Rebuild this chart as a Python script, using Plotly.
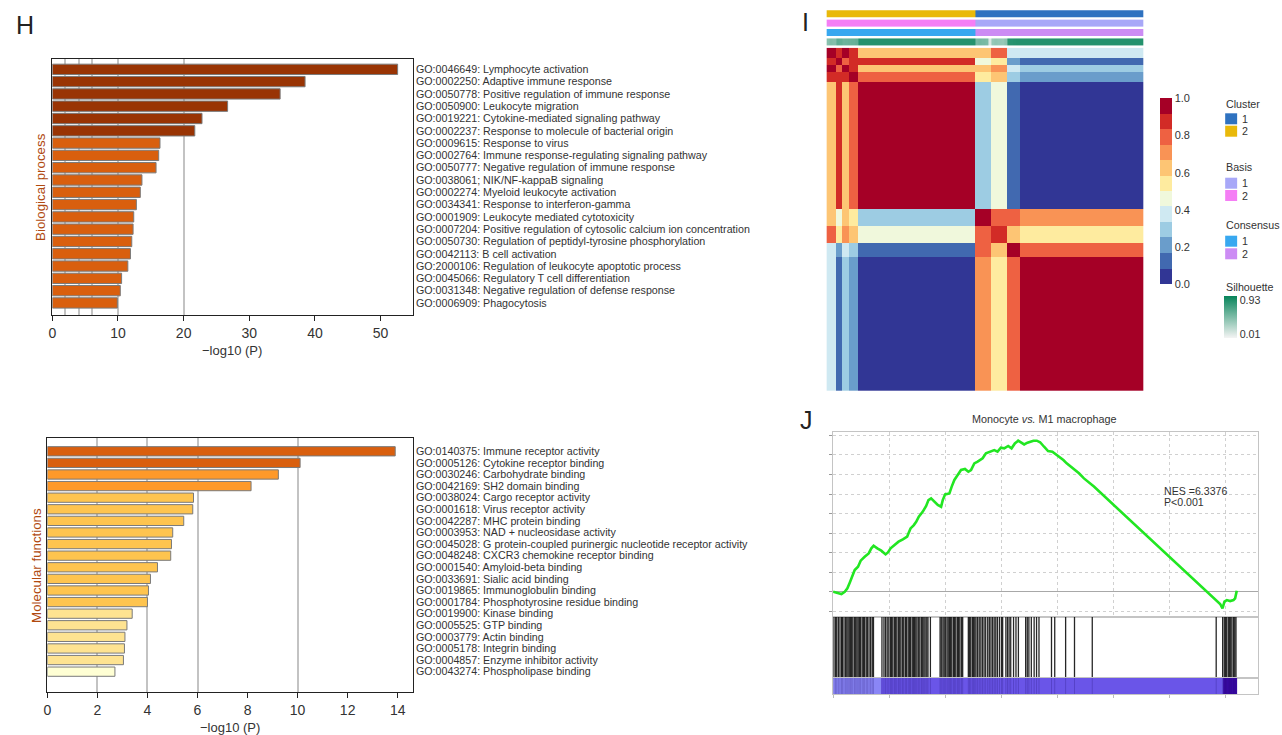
import numpy as np
import plotly.graph_objects as go

W, H = 1282, 735


def fx(x):
    return x / W


def fy(y):
    return 1 - y / H


# ======================= DATA =======================
# ---- Panel H (top): Biological process ----
BP_TERMS = [
    "GO:0046649: Lymphocyte activation",
    "GO:0002250: Adaptive immune response",
    "GO:0050778: Positive regulation of immune response",
    "GO:0050900: Leukocyte migration",
    "GO:0019221: Cytokine-mediated signaling pathway",
    "GO:0002237: Response to molecule of bacterial origin",
    "GO:0009615: Response to virus",
    "GO:0002764: Immune response-regulating signaling pathway",
    "GO:0050777: Negative regulation of immune response",
    "GO:0038061; NIK/NF-kappaB signaling",
    "GO:0002274: Myeloid leukocyte activation",
    "GO:0034341: Response to interferon-gamma",
    "GO:0001909: Leukocyte mediated cytotoxicity",
    "GO:0007204: Positive regulation of cytosolic calcium ion concentration",
    "GO:0050730: Regulation of peptidyl-tyrosine phosphorylation",
    "GO:0042113: B cell activation",
    "GO:2000106: Regulation of leukocyte apoptotic process",
    "GO:0045066: Regulatory T cell differentiation",
    "GO:0031348: Negative regulation of defense response",
    "GO:0006909: Phagocytosis",
]
BP_VALUES = [52.6, 38.5, 34.7, 26.7, 22.8, 21.7, 16.4, 16.2, 15.8, 13.65,
             13.4, 12.8, 12.4, 12.3, 12.1, 11.9, 11.5, 10.55, 10.35, 9.9]
BP_TICKS = [0, 10, 20, 30, 40, 50]
BP_GRID = [2, 4, 6, 10, 20]

# ---- Panel H (bottom): Molecular functions ----
MF_TERMS = [
    "GO:0140375: Immune receptor activity",
    "GO:0005126: Cytokine receptor binding",
    "GO:0030246: Carbohydrate binding",
    "GO:0042169: SH2 domain binding",
    "GO:0038024: Cargo receptor activity",
    "GO:0001618: Virus receptor activity",
    "GO:0042287: MHC protein binding",
    "GO:0003953: NAD + nucleosidase activity",
    "GO:0045028: G protein-coupled purinergic nucleotide receptor activity",
    "GO:0048248: CXCR3 chemokine receptor binding",
    "GO:0001540: Amyloid-beta binding",
    "GO:0033691: Sialic acid binding",
    "GO:0019865: Immunoglobulin binding",
    "GO:0001784: Phosphotyrosine residue binding",
    "GO:0019900: Kinase binding",
    "GO:0005525: GTP binding",
    "GO:0003779: Actin binding",
    "GO:0005178: Integrin binding",
    "GO:0004857: Enzyme inhibitor activity",
    "GO:0043274: Phospholipase binding",
]
MF_VALUES = [13.9, 10.1, 9.23, 8.14, 5.84, 5.81, 5.45, 5.01, 4.96, 4.93,
             4.4, 4.12, 4.04, 4.0, 3.39, 3.18, 3.1, 3.08, 3.04, 2.7]
MF_TICKS = [0, 2, 4, 6, 8, 10, 12, 14]
MF_GRID = [2, 4, 6, 10]

# ---- Panel I: consensus matrix (samples grouped in ordered sub-groups) ----
SUBGROUP_SIZES = [3, 2, 2, 3, 37, 5, 5, 4, 39]
SUBGROUP_CLUSTER = [2, 2, 2, 2, 2, 1, 1, 1, 1]
SUBGROUP_BASIS = [2, 2, 2, 2, 2, 1, 1, 1, 1]
SUBGROUP_CONSENSUS = [1, 1, 1, 1, 1, 2, 2, 2, 2]
SUBGROUP_SILHOUETTE = [
    [0.42, 0.46, 0.44],
    [0.62, 0.60],
    [0.55, 0.56],
    [0.57, 0.58, 0.60],
    [0.90] * 37,
    [0.50, 0.52, 0.50, 0.48, 0.03],
    [0.35, 0.38, 0.36, 0.35, 0.40],
    [0.88, 0.88, 0.89, 0.90],
    [0.90] * 39,
]
BLOCK_CONSENSUS = [
    [0.95, 0.88, 0.92, 0.85, 0.62, 0.62, 0.80, 0.40, 0.40],
    [0.88, 0.97, 0.80, 0.90, 0.88, 0.42, 0.55, 0.20, 0.14],
    [0.92, 0.80, 0.95, 0.88, 0.64, 0.60, 0.70, 0.36, 0.32],
    [0.85, 0.90, 0.88, 0.93, 0.78, 0.55, 0.62, 0.30, 0.24],
    [0.62, 0.88, 0.64, 0.78, 0.99, 0.30, 0.46, 0.16, 0.02],
    [0.62, 0.42, 0.60, 0.55, 0.30, 0.92, 0.80, 0.78, 0.68],
    [0.80, 0.55, 0.70, 0.62, 0.46, 0.80, 0.90, 0.66, 0.55],
    [0.40, 0.20, 0.36, 0.30, 0.16, 0.78, 0.66, 0.93, 0.80],
    [0.40, 0.14, 0.32, 0.24, 0.02, 0.68, 0.55, 0.80, 0.99],
]
CONSENSUS_TICKS = [0.0, 0.2, 0.4, 0.6, 0.8, 1.0]
SILHOUETTE_TICKS = [0.01, 0.93]

# ---- Panel J: GSEA running enrichment score ----
ES_RANK = [0, 12.3, 20.6, 28.8, 35.4, 41.2, 47.7, 53.5, 61.7, 68.3, 78.2, 88.1,
           94.7, 100.4, 109.5, 119.3, 130.0, 135.8, 142.4, 152.3, 162.1, 172.8,
           183.5, 186.8, 191.8, 200.0, 205.8, 212.3, 222.2, 230.5, 236.2, 242.8,
           251.0, 259.3, 267.5, 271.6, 277.4, 288.1, 293.8, 300.4, 308.6, 316.9,
           326.7, 335.0, 341.6, 349.8, 358.0, 370.4, 378.6, 389.3, 399.2, 407.4,
           415.6, 423.9, 433.7, 442.0, 450.2, 458.4, 466.7, 473.3, 481.5, 488.1,
           496.3, 504.5, 512.8, 522.6, 532.5, 543.2, 551.4, 559.7, 570.4, 578.6,
           588.5, 600.8, 609.1, 621.4, 637.9, 646.1, 958.8, 964.6, 969.5, 975.3,
           983.5, 991.8, 995.9, 1000.0]
ES_VALUES = [0.000, -0.005, -0.012, 0.000, 0.017, 0.046, 0.085, 0.111, 0.128,
             0.159, 0.179, 0.196, 0.222, 0.235, 0.222, 0.210, 0.191, 0.201,
             0.222, 0.239, 0.256, 0.268, 0.282, 0.299, 0.324, 0.341, 0.358,
             0.384, 0.410, 0.439, 0.469, 0.478, 0.461, 0.444, 0.435, 0.469,
             0.498, 0.503, 0.538, 0.572, 0.597, 0.623, 0.628, 0.614, 0.623,
             0.657, 0.666, 0.683, 0.708, 0.717, 0.725, 0.717, 0.737, 0.734,
             0.746, 0.734, 0.759, 0.773, 0.763, 0.754, 0.763, 0.768, 0.773,
             0.773, 0.765, 0.742, 0.720, 0.717, 0.705, 0.691, 0.674, 0.657,
             0.640, 0.623, 0.606, 0.580, 0.555, 0.538, -0.063, -0.085, -0.051,
             -0.043, -0.048, -0.043, -0.034, 0.005]
HIT_RANKS = [
    2, 6, 9, 13, 17, 21, 23, 27, 31, 34, 37, 40, 43, 46, 49, 53, 56, 59, 62, 65,
    68, 72, 75, 78, 82, 85, 89, 93, 97, 100,
    121, 126, 130, 134, 138, 142, 145, 148, 152, 155, 158, 162, 165, 168, 172,
    175, 179, 182, 186, 189, 192, 196, 199, 202, 205, 208, 212, 215, 219, 222,
    225, 228, 232, 235, 241,
    265, 268, 272, 275, 278, 282, 285, 288, 291, 294, 298, 301, 304, 308, 311,
    314, 318, 321,
    335, 338, 341, 345, 348, 351, 354, 358, 362, 366, 370, 374, 378, 383, 387,
    391, 395, 399, 403, 407, 412,
    417, 420, 428, 432, 436, 440, 447, 453, 459,
    477, 481, 485, 491, 498, 504, 510,
    541, 549, 576, 598, 642,
    949, 965, 969, 972, 975, 979, 982, 985, 988, 992, 995, 998,
]
METRIC_EDGES = [0, 120, 965, 1000]
METRIC_LEVEL = [1, 2, 3]
RANK_GRID_STEP = 138.8
ES_RANGE = [-0.128, 0.819]
RANK_RANGE = [0, 1052]

# ======================= STYLE =======================
FONT = "Liberation Sans, Arial, Helvetica, sans-serif"
TXT = "#333333"
BP_COLORS = ["#993404"] * 6 + ["#d95f0e"] * 14
MF_COLORS = (["#d95f0e"] * 2 + ["#fe9929"] * 2 + ["#fec44f"] * 10
             + ["#fee391"] * 5 + ["#ffffd4"])
TITLE_BROWN = "#b04a10"
GRID_COLOR = "rgba(175,175,175,0.75)"

RDYLBU12 = ["#313695", "#4169b0", "#6a9dcb", "#9dcce3", "#cfe9f2", "#f0f8dc",
            "#feeb9f", "#fdc574", "#f99355", "#ee6142", "#d22b26", "#a50026"]
cons_scale = []
for k, c in enumerate(RDYLBU12):
    cons_scale.append([k / 12, c])
    cons_scale.append([(k + 1) / 12, c])

CLUSTER_COLORS = {1: "#2f72c0", 2: "#e9b90a"}
BASIS_COLORS = {1: "#a8a8f8", 2: "#f57ef5"}
CONS_COLORS = {1: "#38a8f0", 2: "#cc8cf4"}

fig = go.Figure()

# ---------------- Panel H top ----------------
fig.add_trace(go.Bar(
    x=BP_VALUES, y=BP_TERMS, orientation="h", width=0.84,
    marker=dict(color=BP_COLORS, line=dict(color="#7a7a7a", width=1)),
    xaxis="x", yaxis="y", showlegend=False, hoverinfo="skip"))

# ---------------- Panel H bottom ----------------
fig.add_trace(go.Bar(
    x=MF_VALUES, y=MF_TERMS, orientation="h", width=0.8,
    marker=dict(color=MF_COLORS, line=dict(color="#7a7a7a", width=1)),
    xaxis="x2", yaxis="y2", showlegend=False, hoverinfo="skip"))

# ---------------- Panel I ----------------
grp = np.repeat(np.arange(len(SUBGROUP_SIZES)), SUBGROUP_SIZES)
B = np.array(BLOCK_CONSENSUS)
Z = B[grp][:, grp]
n = len(grp)
samples = np.arange(n)

fig.add_trace(go.Heatmap(
    z=Z, x=samples, y=samples, colorscale=cons_scale, zmin=0, zmax=1,
    xaxis="x3", yaxis="y3", hoverinfo="skip",
    colorbar=dict(x=fx(1160), xanchor="left", xpad=0, y=fy(191.3),
                  yanchor="middle", len=186 / H, lenmode="fraction", ypad=0,
                  thickness=12, outlinewidth=0, ticks="",
                  tickvals=CONSENSUS_TICKS,
                  ticktext=["%.1f" % v for v in CONSENSUS_TICKS],
                  tickfont=dict(size=11, color=TXT, family=FONT))))


def annot_row(values, cmap, row):
    keys = sorted(cmap)
    cs = [[0, cmap[keys[0]]], [0.5, cmap[keys[0]]], [0.5, cmap[keys[1]]], [1, cmap[keys[1]]]]
    fig.add_trace(go.Heatmap(
        z=[values], x=samples, y=[row], colorscale=cs, zmin=keys[0], zmax=keys[1],
        showscale=False, ygap=2, xaxis="x4", yaxis="y4", hoverinfo="skip"))


annot_row(list(np.array(SUBGROUP_CLUSTER)[grp]), CLUSTER_COLORS, 0)
annot_row(list(np.array(SUBGROUP_BASIS)[grp]), BASIS_COLORS, 1)
annot_row(list(np.array(SUBGROUP_CONSENSUS)[grp]), CONS_COLORS, 2)
sil = [v for g in SUBGROUP_SILHOUETTE for v in g]
fig.add_trace(go.Heatmap(
    z=[sil], x=samples, y=[3], colorscale=[[0, "#f4f4f4"], [1, "#07845a"]],
    zmin=-0.1, zmax=1.04, ygap=2, xaxis="x4", yaxis="y4", hoverinfo="skip",
    colorbar=dict(x=fx(1224), xanchor="left", xpad=0, y=fy(317.5),
                  yanchor="middle", len=41.6 / H, lenmode="fraction", ypad=0,
                  thickness=13, outlinewidth=0, ticks="",
                  tickvals=SILHOUETTE_TICKS,
                  ticktext=["%.2f" % v for v in SILHOUETTE_TICKS],
                  tickfont=dict(size=10.7, color=TXT, family=FONT))))

# ---------------- Panel J ----------------
fig.add_trace(go.Scatter(
    x=ES_RANK, y=ES_VALUES, mode="lines",
    line=dict(color="#22e622", width=2.6),
    xaxis="x5", yaxis="y5", showlegend=False, hoverinfo="skip"))

hx, hy = [], []
for h in HIT_RANKS:
    hx += [h, h, None]
    hy += [0, 1, None]
fig.add_trace(go.Scatter(
    x=hx, y=hy, mode="lines", line=dict(color="rgba(0,0,0,0.85)", width=1.3),
    xaxis="x6", yaxis="y6", showlegend=False, hoverinfo="skip"))

fig.add_trace(go.Heatmap(
    z=[METRIC_LEVEL], x=METRIC_EDGES, y=[0, 1],
    colorscale=[[0, "#8a86f6"], [0.33, "#8a86f6"], [0.33, "#6a55e8"],
                [0.67, "#6a55e8"], [0.67, "#3c0aa8"], [1, "#3c0aa8"]],
    zmin=1, zmax=3, showscale=False, xaxis="x7", yaxis="y7", hoverinfo="skip"))
fig.add_trace(go.Scatter(
    x=hx, y=hy, mode="lines", line=dict(color="rgba(20,0,90,0.22)", width=1),
    xaxis="x7", yaxis="y7", showlegend=False, hoverinfo="skip"))

# ======================= LAYOUT =======================
tickfont = dict(size=14, color=TXT, family=FONT)
bar_x_common = dict(showline=True, mirror=True, linecolor="#222", linewidth=1.2,
                    ticks="outside", ticklen=5, tickcolor="#222", tickwidth=1,
                    showgrid=False, zeroline=False, tickfont=tickfont,
                    layer="above traces")
bar_y_common = dict(type="category", side="right", showline=True, mirror=True,
                    linecolor="#222", linewidth=1.2, ticks="", showgrid=False,
                    zeroline=False, automargin=False, tickmode="array",
                    tickfont=dict(size=10.7, color=TXT, family=FONT))

hidden = dict(visible=False, showgrid=False, zeroline=False)
frame = dict(showline=True, mirror=True, linecolor="#c4c4c4", linewidth=1,
             showticklabels=False, zeroline=False)

fig.update_layout(
    width=W, height=H, margin=dict(l=0, r=0, t=0, b=0),
    paper_bgcolor="white", plot_bgcolor="rgba(0,0,0,0)",
    font=dict(family=FONT, color=TXT), showlegend=False,
    xaxis=dict(domain=[fx(48.5), fx(410)], range=[0, 54.9], anchor="y",
               tickvals=BP_TICKS,
               minor=dict(tickvals=BP_GRID, showgrid=True, gridcolor=GRID_COLOR,
                          gridwidth=1.6, ticks=""),
               **bar_x_common),
    yaxis=dict(domain=[fy(315), fy(58.5)], range=[19.98, -0.88], anchor="x",
               tickvals=BP_TERMS, ticktext=BP_TERMS, **bar_y_common),
    xaxis2=dict(domain=[fx(43.5), fx(410)], range=[0, 14.6], anchor="y2",
                tickvals=MF_TICKS,
                minor=dict(tickvals=MF_GRID, showgrid=True, gridcolor=GRID_COLOR,
                           gridwidth=1.6, ticks=""),
                **bar_x_common),
    yaxis2=dict(domain=[fy(692.3), fy(438.3)], range=[20.78, -1.12], anchor="x2",
                tickvals=MF_TERMS, ticktext=MF_TERMS, **bar_y_common),
    xaxis3=dict(domain=[fx(825), fx(1143.3)], range=[-0.5, n - 0.5], anchor="y3", **hidden),
    yaxis3=dict(domain=[fy(391), fy(47.7)], range=[n - 0.5, -0.5], anchor="x3", **hidden),
    xaxis4=dict(domain=[fx(825), fx(1143.3)], range=[-0.5, n - 0.5], anchor="y4", **hidden),
    yaxis4=dict(domain=[fy(46.8), fy(9.2)], range=[3.5, -0.5], anchor="x4", **hidden),
    xaxis5=dict(domain=[fx(831.7), fx(1257.7)], range=RANK_RANGE, anchor="y5",
                showgrid=True, gridcolor="#d0d0d0", griddash="dot", gridwidth=1,
                tick0=0, dtick=RANK_GRID_STEP, ticks="", **frame),
    yaxis5=dict(domain=[fy(616.7), fy(431.7)], range=ES_RANGE, anchor="x5",
                showgrid=True, gridcolor="#d0d0d0", griddash="dot", gridwidth=1,
                tick0=0, dtick=0.1, ticks="outside", ticklen=3, tickcolor="#999",
                **frame),
    xaxis6=dict(domain=[fx(831.7), fx(1257.7)], range=RANK_RANGE, anchor="y6",
                showgrid=False, ticks="", **frame),
    yaxis6=dict(domain=[fy(678), fy(616.7)], range=[0, 1], anchor="x6",
                showgrid=False, ticks="", **frame),
    xaxis7=dict(domain=[fx(831.7), fx(1257.7)], range=RANK_RANGE, anchor="y7",
                showgrid=False, ticks="outside", ticklen=3, tickcolor="#bbb",
                tick0=0, dtick=RANK_GRID_STEP, **frame),
    yaxis7=dict(domain=[fy(694), fy(678)], range=[0, 1], anchor="x7",
                showgrid=False, ticks="", **frame),
)

# zero line of ES
fig.update_yaxes(zeroline=True, zerolinecolor="#a8a8a8", zerolinewidth=1.2,
                 selector=dict(anchor="x5"))

ann = []


def text(x, y, s, size=10.7, color=TXT, xanchor="left", angle=0, yanchor="middle"):
    ann.append(dict(x=fx(x), y=fy(y), xref="paper", yref="paper", text=s,
                    showarrow=False, xanchor=xanchor, yanchor=yanchor,
                    textangle=angle, font=dict(size=size, color=color, family=FONT)))


# panel letters
text(10, 25, "H", size=25, color="#222")
text(798, 22, "I", size=25, color="#222")
text(796, 420, "J", size=25, color="#222")

# bar chart titles
text(229, 351, "\u2212log10 (P)", size=13, xanchor="center")
text(227, 727, "\u2212log10 (P)", size=13, xanchor="center")
text(36, 187, "Biological process", size=13.3, color=TITLE_BROWN, xanchor="center", angle=-90)
text(32, 565, "Molecular functions", size=13.3, color=TITLE_BROWN, xanchor="center", angle=-90)

# heatmap legend
text(1224, 104, "Cluster")
text(1224, 167.3, "Basis")
text(1224, 225, "Consensus")
text(1224, 286.7, "Silhouette")
legend_items = [(118.8, CLUSTER_COLORS[1], "1"), (131.2, CLUSTER_COLORS[2], "2"),
                (183.2, BASIS_COLORS[1], "1"), (195.5, BASIS_COLORS[2], "2"),
                (241.2, CONS_COLORS[1], "1"), (253.8, CONS_COLORS[2], "2")]
shapes = []
for yc, col, lab in legend_items:
    shapes.append(dict(type="rect", xref="paper", yref="paper",
                       x0=fx(1225), x1=fx(1237), y0=fy(yc + 5.5), y1=fy(yc - 5.5),
                       fillcolor=col, line=dict(width=0)))
    text(1240, yc, lab)

# GSEA texts
text(1044, 419, "Monocyte <i>vs.</i> M1 macrophage", size=10.8, xanchor="center")
text(1161.5, 490.7, "NES =6.3376", size=10.6)
text(1161.5, 501.7, "P&lt;0.001", size=10.6)

fig.update_layout(annotations=ann, shapes=shapes)

fig.write_html("out.html")
